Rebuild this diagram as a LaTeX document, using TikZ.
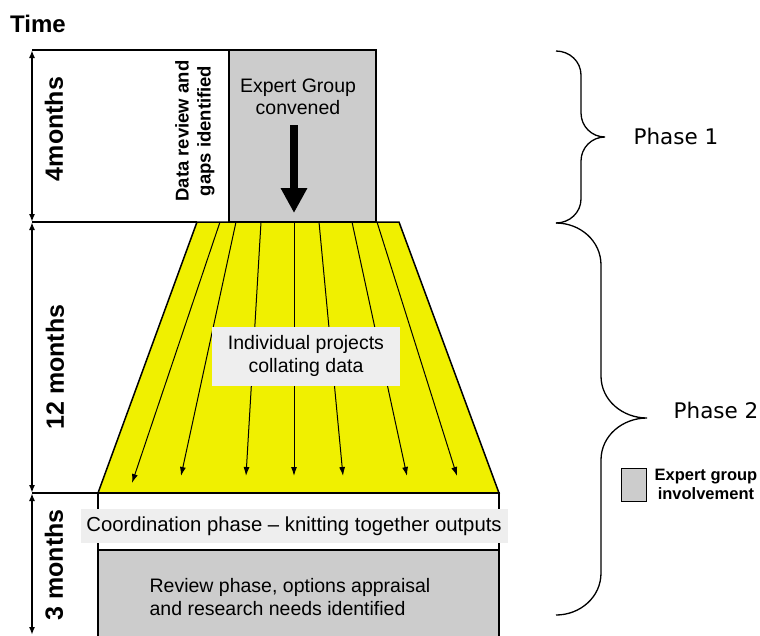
\documentclass[tikz,border=0pt]{standalone}
\usepackage{fontspec}
\setmainfont{Liberation Sans}
\newfontfamily\phasefont{DejaVu Sans}
\usetikzlibrary{arrows.meta,positioning}

\definecolor{boxgray}{RGB}{204,204,204}
\definecolor{labelgray}{RGB}{238,238,238}
\definecolor{projyellow}{RGB}{240,240,0}

\tikzset{
	span/.style={{Latex[length=8pt,width=6pt]}-{Latex[length=8pt,width=6pt]}, line width=1.6pt},
	months/.style={rotate=90, font=\fontsize{25}{28}\selectfont\bfseries},
	flow/.style={-{Latex[length=9pt,width=6pt]}, line width=1pt},
	tag/.style={fill=labelgray, align=center, font=\fontsize{19.5}{23}\selectfont},
	phase/.style={font=\phasefont\fontsize{21.5}{24}\selectfont},
	brace/.style={line width=1.3pt},
	outline/.style={line width=1.5pt}
}

\begin{document}
\begin{tikzpicture}[x=1pt,y=-1pt]
		\useasboundingbox (0,0) rectangle (760,635);
		% time axis
		\coordinate (t0) at (32,50);
		\coordinate (t1) at (32,222);
		\coordinate (t2) at (32,493);
		\coordinate (t3) at (32,635);
		\node[font=\fontsize{24}{26}\selectfont\bfseries] (time) at (38,24) {Time};
		% phase 1 block
		\draw[outline, fill=boxgray] (229,50) rectangle (376,222);
		\draw[outline] (t0) -- (376,50);
		% yellow projects block
		\draw[outline, fill=projyellow] (197,222) -- (399,222) -- (499,493) -- (98,493) -- cycle;
		\draw[outline] (t1) -- (197,222);
		\draw[outline] (t2) -- (98,493);
		\foreach \a/\b/\c [count=\i] in {220/132/483, 236/181/476, 261/246/476,
			294/294/476, 319/343/476, 352/407/476, 377/457/476} {
			\coordinate (s\i) at (\a,222);
			\coordinate (e\i) at (\b,\c);
			\draw[flow] (s\i) -- (e\i);
		}
		\node[tag, minimum width=188, minimum height=59] (projects) at (306,356)
			{Individual projects\\collating data};
		% final blocks
		\draw[outline] (98,493) rectangle (499,550);
		\draw[outline, fill=boxgray] (98,636) -- (98,550) -- (499,550) -- (499,636);
		\node[tag, minimum width=427, minimum height=34, font=\fontsize{20.3}{23}\selectfont] (coord) at (294,526)
			{Coordination phase -- knitting together outputs};
		\node[align=left, font=\fontsize{19.5}{23}\selectfont] (review) at (290,597)
			{Review phase, options appraisal\\and research needs identified};
		% durations
		\draw[span] (t0) -- (t1);
		\draw[span] (t1) -- (t2);
		\draw[span] (t2) -- (t3);
		\node[months] (m4) at (54,129) {4months};
		\node[months] (m12) at (55,367) {12 months};
		\node[months] (m3) at (54,565) {3 months};
		\node[fill=white, inner sep=1pt, minimum height=40, rotate=90, align=center, font=\fontsize{18.5}{22}\selectfont\bfseries] (review1) at (195,131)
			{Data review and\\gaps identified};
		\node[align=center, font=\fontsize{19.5}{22}\selectfont] (expert) at (298,97)
			{Expert Group\\convened};
		\coordinate (conv) at (294,125);
		\coordinate (convend) at (294,213);
		\draw[line width=8pt, -{Triangle[length=25pt,width=25pt]}] (conv) -- (convend);
		% phases
		\draw[brace] (556,51) to[out=0,in=90] (581,75) -- (581,113)
			to[out=270,in=180] (605,137) to[out=180,in=90] (581,161) -- (581,199)
			to[out=270,in=0] (556,223);
		\draw[brace] (556,223) to[out=0,in=90] (601,265) -- (601,376)
			to[out=270,in=180] (647,418) to[out=180,in=90] (601,460) -- (601,573)
			to[out=270,in=0] (556,615);
		\node[phase] (p1) at (676,136) {Phase 1};
		\node[phase] (p2) at (716,410) {Phase 2};
		% key
		\node[draw, fill=boxgray, line width=0.8pt, minimum width=25, minimum height=33] (key) at (633.5,484.5) {};
		\node[right=8pt of key, inner sep=0pt, align=center, font=\fontsize{16.5}{18.5}\selectfont\bfseries] (keytext)
			{Expert group\\involvement};
\end{tikzpicture}
\end{document}
